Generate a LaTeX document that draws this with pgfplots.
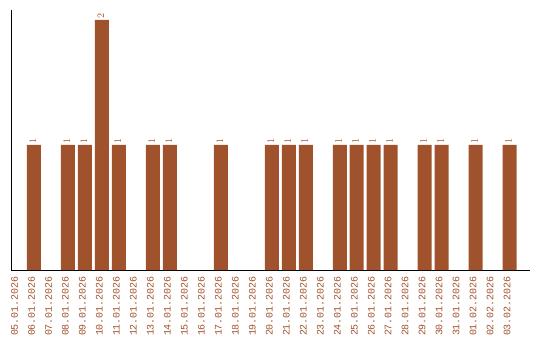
\documentclass[border=0pt]{standalone}
\usepackage{fontspec}
\setmonofont{Liberation Mono}
\usepackage{pgfplots}
\pgfplotsset{compat=1.18}
\definecolor{sienna}{HTML}{A0522D}
\begin{document}
\begin{tikzpicture}[x=1bp,y=1bp]
\begin{axis}[
  at={(0,0)}, anchor=south west,
  scale only axis, width=519bp, height=260bp,
  xmin=-0.353, xmax=30.2, ymin=0, ymax=2.08,
  axis x line=bottom, axis y line=left,
  axis line style={-, black, line width=1bp},
  ytick=\empty,
  xtick={0,...,29},
  xticklabels={05.01.2026,06.01.2026,07.01.2026,08.01.2026,09.01.2026,10.01.2026,11.01.2026,12.01.2026,13.01.2026,14.01.2026,15.01.2026,16.01.2026,17.01.2026,18.01.2026,19.01.2026,20.01.2026,21.01.2026,22.01.2026,23.01.2026,24.01.2026,25.01.2026,26.01.2026,27.01.2026,28.01.2026,29.01.2026,30.01.2026,31.01.2026,01.02.2026,02.02.2026,03.02.2026},
  major tick length=0pt,
  xticklabel style={xshift=-2.5bp, yshift=-6bp, rotate=90, anchor=east, font=\ttfamily\fontsize{10}{12}\selectfont, text=sienna, inner sep=0pt},
  ybar, bar width=14bp,
  nodes near coords,
  every node near coord/.append style={xshift=-1bp, rotate=90, anchor=west, font=\ttfamily\fontsize{10}{11}\selectfont, text=sienna, inner sep=1.5bp},
  clip=false,
]
\addplot[fill=sienna, draw=none, bar shift=0pt] coordinates {
(1,1) (3,1) (4,1) (5,2) (6,1) (8,1) (9,1) (12,1) (15,1) (16,1) (17,1)
(19,1) (20,1) (21,1) (22,1) (24,1) (25,1) (27,1) (29,1)
};
\end{axis}
\pgfresetboundingbox
\path[use as bounding box] (-11bp,-70bp) rectangle (529bp,270bp);
\end{tikzpicture}
\end{document}
